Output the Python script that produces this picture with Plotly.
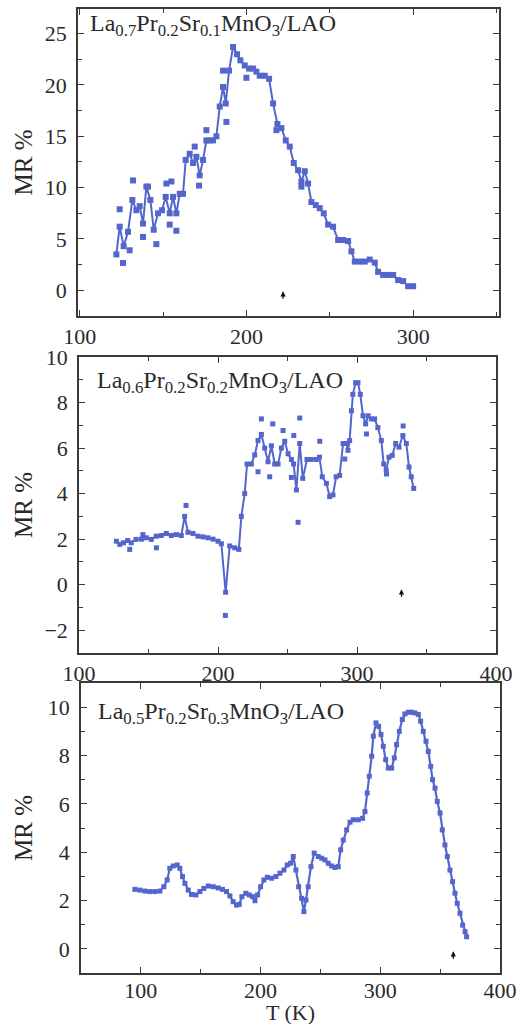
import plotly.graph_objects as go

# ---------------- data ----------------
# La0.7Pr0.2Sr0.1MnO3/LAO
t1 = [122, 124, 126.4, 129, 131.6, 134, 136, 138, 140, 142.4, 144.4, 147, 149.4, 151.6,
      154, 156, 158, 160, 162, 163.6, 166, 168, 170, 172, 174, 176, 178, 180, 182, 184,
      186, 187.6, 189.6, 192, 194.4, 196.4, 199, 201.6, 204, 206, 208, 211, 213.6, 216,
      218.6, 221, 223.6, 226, 228.4, 231, 233, 235, 237, 239, 241.6, 244, 246.4, 249,
      252, 255, 258, 261, 263, 265, 268, 271, 274, 277, 279, 282, 285, 288, 291, 294,
      297, 300]
mr1 = [3.5, 6.2, 4.3, 5.7, 8.8, 7.8, 8.2, 6.5, 10.1, 8.8, 5.9, 7.5, 7.8, 9.1,
       7.5, 9.1, 7.5, 9.4, 9.4, 12.7, 13.3, 12.4, 13.0, 11.2, 12.7, 14.6, 14.6, 14.6, 15.0, 17.9,
       19.8, 18.2, 21.4, 23.7, 23.0, 22.4, 21.9, 21.6, 21.6, 21.3, 20.9, 20.9, 20.6, 18.2,
       16.2, 15.8, 14.6, 14.0, 12.4, 11.7, 10.6, 11.6, 10.4, 8.6, 8.3, 8.0, 7.5, 6.4,
       6.2, 4.9, 4.9, 4.8, 3.8, 2.8, 2.8, 2.8, 3.0, 2.7, 1.8, 1.5, 1.5, 1.5, 1.0, 0.9,
       0.4, 0.4]
t1_raw = [124, 126, 130, 132, 138, 141, 146, 152, 155, 154, 158, 171.6, 169, 176, 188, 186, 200, 218, 233]
mr1_raw = [7.9, 2.66, 3.9, 10.7, 5.2, 10.1, 4.5, 10.4, 10.6, 6.4, 5.8, 10.2, 14.0, 15.6, 16.4, 21.4, 20.7, 15.6, 10.1]

# La0.6Pr0.2Sr0.2MnO3/LAO
t2 = [126.9, 129.3, 132, 135, 137.6, 141, 145, 148.4, 152, 155.6, 159.2, 162.8, 166.4, 170,
      173.6, 176, 178.4, 182, 185.6, 189.2, 192.8, 196.4, 200, 202.4, 205.5, 208.4, 212, 215,
      216.8, 219.2, 220.9, 224, 226.4, 228.8, 231.2, 233.6, 236, 238.4, 240.8, 243.2, 245.6,
      248, 250.4, 252.8, 254.4, 256.4, 258.8, 261, 264, 267, 270.7, 273, 275, 278, 280.3,
      282.7, 285, 287.5, 290, 292.3, 293.5, 294.7, 296, 297, 299, 300.7, 302.4, 304.3, 306.2,
      308, 310.3, 312.7, 315, 317.5, 319.2, 321, 323, 325.4, 327.8, 330.2, 333, 335.5, 337.4,
      339, 340.8]
mr2 = [1.91, 1.77, 1.84, 1.94, 1.84, 1.99, 2.0, 2.06, 1.99, 2.13, 2.16, 2.25, 2.16, 2.2,
       2.16, 3.0, 2.3, 2.25, 2.13, 2.1, 2.06, 2.0, 1.91, 1.8, -0.33, 1.7, 1.62, 1.55,
       3.0, 4.0, 5.3, 5.3, 5.7, 6.33, 6.6, 6.0, 5.4, 6.1, 5.3, 5.3, 6.0,
       6.3, 5.75, 5.5, 5.3, 4.16, 6.2, 4.67, 5.5, 5.5, 5.5, 5.6, 4.74, 4.45, 3.87,
       3.94, 4.74, 4.8, 6.2, 6.2, 5.9, 6.33, 7.64, 8.36, 8.87, 8.87, 8.36, 7.42, 7.06,
       7.42, 7.28, 7.28, 6.9, 6.33, 5.3, 5.03, 5.6, 5.68, 6.2, 6.04, 6.55, 6.2, 5.17,
       4.74, 4.23]
t2_raw = [136.5, 146, 155.7, 177, 205.3, 228.8, 231.2, 237.2, 239.4, 246.8, 252.8, 254.5,
          257.6, 258.8, 273.2, 291.2, 306.8, 321.2, 333.2]
mr2_raw = [1.55, 2.2, 1.62, 3.48, -1.35, 4.96, 7.28, 4.74, 7.06, 6.77, 4.71, 6.55,
           2.74, 7.32, 6.3, 5.52, 6.62, 4.86, 6.97]

# La0.5Pr0.2Sr0.3MnO3/LAO
t3 = [95.0, 99.2, 103.3, 107.5, 111.7, 115.9, 119.2, 122.0, 124.2, 127.0,
      130.4, 132.6, 134.8, 136.8, 139.6, 142.3, 146.0, 149.3, 152.6, 156.3,
      160.4, 164.6, 168.2, 171.6, 174.4, 177.1, 179.9, 182.2, 184.4, 187.7,
      190.5, 193.3, 195.3, 197.5, 200.0, 202.8, 205.6, 209.2, 212.8, 216.2,
      219.5, 222.3, 225.1, 227.3, 229.5, 231.8, 234.3, 236.2, 237.9, 239.8,
      242.1, 244.8, 248.2, 251.0, 253.8, 256.5, 259.3, 262.1, 264.9, 266.9,
      269.1, 271.9, 274.7, 277.4, 281.6, 285.2, 287.2, 289.1, 290.8, 292.8,
      294.2, 296.4, 298.6, 300.6, 302.5, 304.5, 306.7, 309.5, 311.7, 313.6,
      315.9, 318.4, 320.6, 323.4, 326.2, 329.0, 331.8, 333.7, 335.9, 338.2,
      340.1, 342.1, 343.7, 345.7, 347.6, 349.9, 351.8, 354.0, 356.0, 358.2,
      360.4, 362.4, 364.3, 366.6, 368.8, 370.8, 372.1]
mr3 = [2.46, 2.43, 2.39, 2.37, 2.37, 2.39, 2.57, 2.85, 3.33, 3.43,
       3.47, 3.33, 2.99, 2.71, 2.43, 2.25, 2.23, 2.37, 2.5, 2.6,
       2.57, 2.52, 2.46, 2.37, 2.19, 1.95, 1.81, 1.84, 2.16, 2.3,
       2.23, 2.16, 1.99, 2.23, 2.57, 2.85, 2.96, 2.92, 2.99, 3.13,
       3.26, 3.47, 3.54, 3.82, 3.26, 2.57, 2.09, 1.54, 2.02, 2.57,
       3.4, 3.96, 3.82, 3.75, 3.68, 3.54, 3.43, 3.37, 3.4, 4.1,
       4.5, 4.92, 5.24, 5.34, 5.34, 5.4, 5.68, 6.45, 7.14, 7.97,
       8.8, 9.35, 9.21, 8.87, 8.38, 7.83, 7.48, 7.48, 7.9, 8.45,
       9.0, 9.49, 9.72, 9.79, 9.79, 9.76, 9.7, 9.42, 9.0, 8.59,
       8.17, 7.55, 7.0, 6.65, 6.1, 5.62, 4.92, 4.3, 3.82, 3.26,
       2.78, 2.3, 1.88, 1.47, 0.98, 0.71, 0.5]

# Tc arrow positions (T, MR, panel)
tc_marks = [(222, -0.1, 1), (332, -0.2, 2), (361, -0.1, 3)]

titles = [
    "La<sub>0.7</sub>Pr<sub>0.2</sub>Sr<sub>0.1</sub>MnO<sub>3</sub>/LAO",
    "La<sub>0.6</sub>Pr<sub>0.2</sub>Sr<sub>0.2</sub>MnO<sub>3</sub>/LAO",
    "La<sub>0.5</sub>Pr<sub>0.2</sub>Sr<sub>0.3</sub>MnO<sub>3</sub>/LAO",
]

# ---------------- styling ----------------
W, H = 519, 1026
BLUE = "#5466cc"
AXC = "#3a3a3a"
TXT = "#2a2a2a"
FONT = "Liberation Serif"


def px_x(a, b):
    return [a / W, b / W]


def px_y(top, bottom):
    return [1 - bottom / H, 1 - top / H]


fig = go.Figure()

panels = [
    dict(t=t1, mr=mr1, tr=t1_raw, mrr=mr1_raw, ms=6, lw=2),
    dict(t=t2, mr=mr2, tr=t2_raw, mrr=mr2_raw, ms=5, lw=2),
    dict(t=t3, mr=mr3, tr=None, mrr=None, ms=5, lw=2.2),
]

for i, p in enumerate(panels, start=1):
    xa = "x" if i == 1 else f"x{i}"
    ya = "y" if i == 1 else f"y{i}"
    if p["tr"] is not None:
        fig.add_trace(go.Scatter(x=p["tr"], y=p["mrr"], mode="markers", xaxis=xa, yaxis=ya,
                                 marker=dict(symbol="square", size=p["ms"], color=BLUE),
                                 showlegend=False, hoverinfo="skip"))
    fig.add_trace(go.Scatter(x=p["t"], y=p["mr"], mode="lines+markers", xaxis=xa, yaxis=ya,
                             line=dict(color=BLUE, width=p["lw"]),
                             marker=dict(symbol="square", size=p["ms"], color=BLUE),
                             showlegend=False))

axis_common = dict(
    showline=True, linecolor=AXC, linewidth=1.6, mirror="ticks",
    ticks="inside", ticklen=6, tickwidth=1.4, tickcolor=AXC,
    showgrid=False, zeroline=False, automargin=False,
    tickfont=dict(family=FONT, size=22, color=TXT),
)

xdoms = [px_x(78, 499), px_x(79, 496), px_x(81, 500)]
ydoms = [px_y(9, 316), px_y(357, 653), px_y(683, 973)]
xranges = [[99, 351.5], [100, 400], [50, 400]]
yranges = [[-2.5, 27.4], [-3, 10], [-1, 11]]
ydt = [5, 2, 2]
ymin = [2.5, 1, 1]
xtv = [[100, 200, 300], [100, 200, 300, 400], [100, 200, 300, 400]]
xstand = [0, 0, -3]

layout = dict(
    width=W, height=H, margin=dict(l=0, r=0, t=0, b=0, autoexpand=False),
    paper_bgcolor="white", plot_bgcolor="white",
    font=dict(family=FONT, color=TXT),
)

for i in range(3):
    xk = "xaxis" if i == 0 else f"xaxis{i+1}"
    yk = "yaxis" if i == 0 else f"yaxis{i+1}"
    ya = "y" if i == 0 else f"y{i+1}"
    xa = "x" if i == 0 else f"x{i+1}"
    layout[xk] = dict(axis_common, domain=xdoms[i], range=xranges[i], anchor=ya,
                      tickmode="array", tickvals=xtv[i], ticklabelstandoff=xstand[i],
                      minor=dict(ticks="inside", ticklen=4, tickwidth=1.2, tickcolor=AXC, dtick=50))
    layout[yk] = dict(axis_common, domain=ydoms[i], range=yranges[i], anchor=xa,
                      dtick=ydt[i], tick0=0, ticklabelstandoff=5,
                      minor=dict(ticks="inside", ticklen=4, tickwidth=1.2, tickcolor=AXC, dtick=ymin[i], tick0=0))

fig.update_layout(**layout)

# y-axis titles placed at a fixed horizontal position
for top, bottom in [(9, 316), (357, 653), (683, 973)]:
    fig.add_annotation(text="MR %", xref="paper", yref="paper", x=23 / W, y=1 - (top + bottom) / 2 / H,
                       textangle=-90, showarrow=False, xanchor="center", yanchor="middle",
                       font=dict(family=FONT, size=25, color=TXT))

# x-axis title of the bottom panel
fig.add_annotation(text="T (K)", xref="paper", yref="paper", x=(81 + 500) / 2 / W, y=1 - 1012 / H,
                   showarrow=False, xanchor="center", yanchor="middle", height=24,
                   font=dict(family=FONT, size=22, color=TXT))

# sample labels
label_pos = [(88, 25), (95, 382), (96, 713)]
for txt, (lx, ly) in zip(titles, label_pos):
    fig.add_annotation(text=txt, xref="paper", yref="paper", x=lx / W, y=1 - ly / H,
                       xanchor="left", yanchor="middle", showarrow=False,
                       font=dict(family=FONT, size=24, color=TXT))

# Tc arrows
for tx, ty, k in tc_marks:
    xr = "x" if k == 1 else f"x{k}"
    yr = "y" if k == 1 else f"y{k}"
    fig.add_annotation(x=tx, y=ty, xref=xr, yref=yr, text="", showarrow=True,
                       ax=0, ay=9, arrowhead=2, arrowsize=0.8, arrowwidth=1.3, arrowcolor="#111")

fig.write_html("out.html")
